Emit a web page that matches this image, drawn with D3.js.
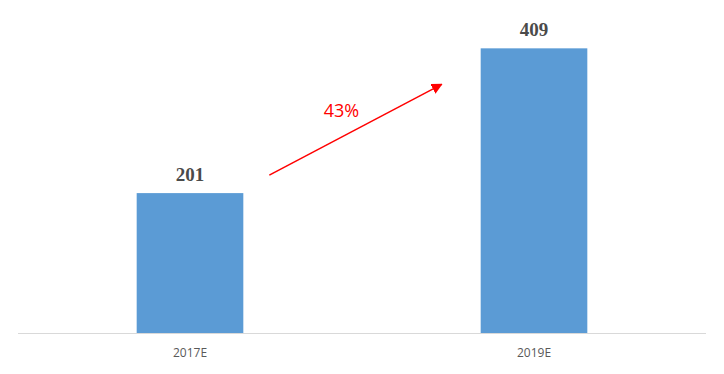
<!DOCTYPE html>
<html>
<head>
<meta charset="utf-8">
<script src="https://cdn.jsdelivr.net/npm/d3@7"></script>
<style>
  body { margin: 0; background: #fff; }
  svg { display: block; }
</style>
</head>
<body>
<svg id="chart"></svg>
<script>
'use strict'

const categories = ["2017E", "2019E"]
const values = [201, 409]
const growthLabel = "43%"

const width = 724,
      height = 374

const svg = d3.select("#chart")
  .attr("width", width)
  .attr("height", height)

// band layout: axis spans the whole plot, bars are narrow
const x = d3.scaleBand()
  .domain(categories)
  .range([18, 706])
  .paddingInner(0.69)
  .paddingOuter(0.345)

const y = d3.scaleLinear()
  .domain([0, 450])
  .range([333, 19.8])

// bars
svg.append("g")
  .selectAll("rect")
  .data(values)
  .enter().append("rect")
    .attr("x", (d, i) => x(categories[i]))
    .attr("y", d => y(d))
    .attr("width", x.bandwidth())
    .attr("height", d => y(0) - y(d))
    .attr("fill", "#5B9BD5")

// x axis line
svg.append("line")
  .attr("x1", x.range()[0]).attr("x2", x.range()[1])
  .attr("y1", y(0) + 0.5).attr("y2", y(0) + 0.5)
  .attr("stroke", "#d9d9d9")
  .attr("stroke-width", 1)

// category labels
svg.append("g")
  .selectAll("text")
  .data(categories)
  .enter().append("text")
    .attr("x", d => x(d) + x.bandwidth() / 2)
    .attr("y", y(0) + 24)
    .attr("text-anchor", "middle")
    .attr("font-family", "'Open Sans', 'Liberation Sans', sans-serif")
    .attr("font-size", 12)
    .attr("fill", "#595959")
    .text(d => d)

// value labels
svg.append("g")
  .selectAll("text")
  .data(values)
  .enter().append("text")
    .attr("x", (d, i) => x(categories[i]) + x.bandwidth() / 2)
    .attr("y", d => y(d) - 12)
    .attr("text-anchor", "middle")
    .attr("font-family", "'Liberation Serif', 'DejaVu Serif', serif")
    .attr("font-weight", 600)
    .attr("font-size", 19)
    .attr("fill", "#4a4a4a")
    .text(d => d)

// growth arrow
svg.append("defs").append("marker")
  .attr("id", "head")
  .attr("viewBox", "0 0 10 10")
  .attr("refX", 9).attr("refY", 5)
  .attr("markerWidth", 11).attr("markerHeight", 11)
  .attr("markerUnits", "userSpaceOnUse")
  .attr("orient", "auto")
  .append("path")
    .attr("d", "M0,0L10,5L0,10Z")
    .attr("fill", "#ff0000")

const x0 = x(categories[0]) + x.bandwidth() + 26,
      y0 = y(values[0]) - 18,
      x1 = x(categories[1]) - 39,
      y1 = y(values[1]) + 36

svg.append("line")
  .attr("x1", x0).attr("y1", y0)
  .attr("x2", x1).attr("y2", y1)
  .attr("stroke", "#ff0000")
  .attr("stroke-width", 1.5)
  .attr("marker-end", "url(#head)")

svg.append("text")
  .attr("x", (x0 + x1) / 2 - 14)
  .attr("y", (y0 + y1) / 2 - 13)
  .attr("text-anchor", "middle")
  .attr("font-family", "'Open Sans', 'Liberation Sans', sans-serif")
  .attr("font-size", 18)
  .attr("fill", "#ff0000")
  .text(growthLabel)
</script>
</body>
</html>
